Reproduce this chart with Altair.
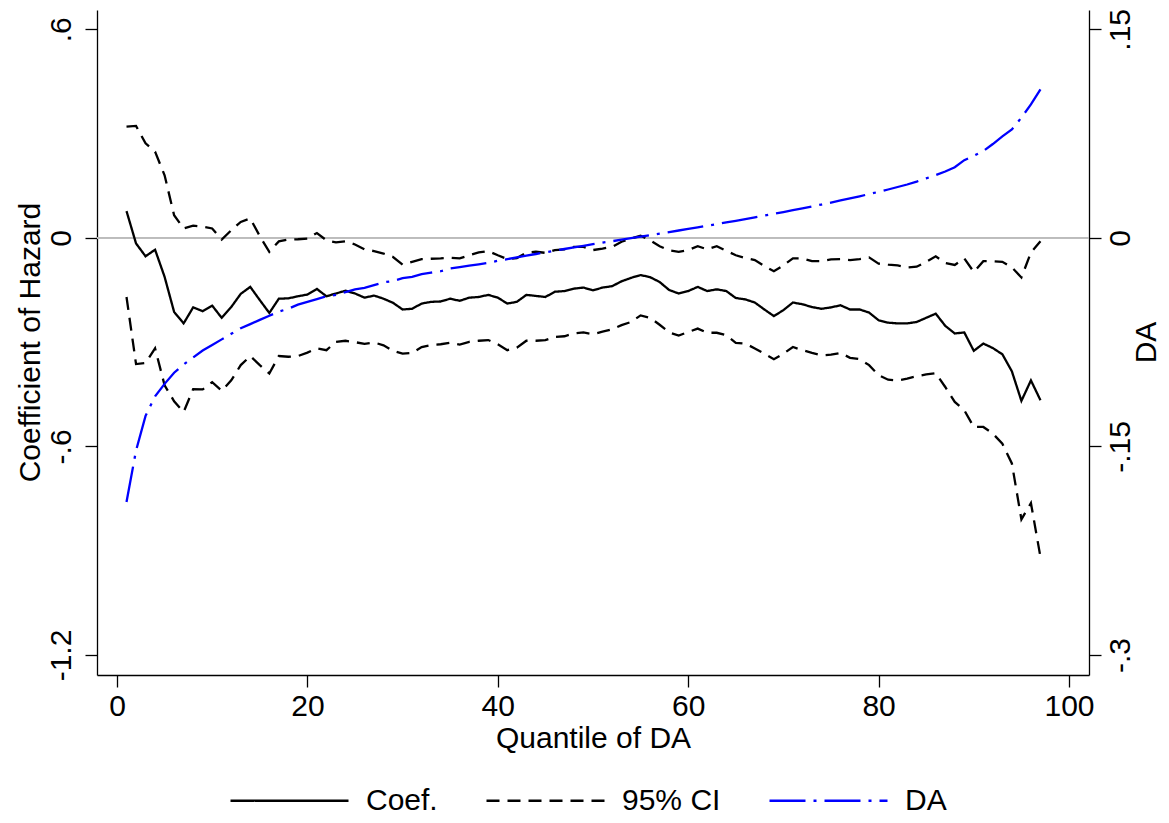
import altair as alt
import pandas as pd

# ---------------- data ----------------
quantile = list(range(1, 98))

coef = [0.077, -0.016, -0.053, -0.034, -0.112, -0.213, -0.246, -0.200, -0.211, -0.195,
        -0.230, -0.199, -0.161, -0.141, -0.179, -0.216, -0.175, -0.174, -0.168, -0.163,
        -0.147, -0.168, -0.160, -0.152, -0.160, -0.172, -0.166, -0.175, -0.187, -0.206,
        -0.204, -0.189, -0.184, -0.183, -0.175, -0.181, -0.172, -0.170, -0.164, -0.172,
        -0.189, -0.184, -0.164, -0.167, -0.170, -0.155, -0.153, -0.146, -0.143, -0.151,
        -0.143, -0.139, -0.125, -0.115, -0.107, -0.113, -0.127, -0.150, -0.160, -0.153,
        -0.141, -0.153, -0.148, -0.153, -0.173, -0.177, -0.186, -0.206, -0.225, -0.208,
        -0.186, -0.191, -0.199, -0.204, -0.200, -0.194, -0.206, -0.206, -0.215, -0.237,
        -0.244, -0.246, -0.246, -0.242, -0.230, -0.218, -0.253, -0.275, -0.272, -0.325,
        -0.304, -0.317, -0.335, -0.384, -0.469, -0.410, -0.467]

ci_upper = [0.320, 0.322, 0.272, 0.248, 0.180, 0.065, 0.027, 0.035, 0.032, 0.027,
            -0.005, 0.022, 0.046, 0.056, 0.005, -0.040, -0.010, -0.005, -0.004, -0.002,
            0.014, -0.007, -0.013, -0.010, -0.019, -0.033, -0.038, -0.045, -0.055, -0.077,
            -0.069, -0.061, -0.060, -0.059, -0.057, -0.059, -0.050, -0.042, -0.038, -0.050,
            -0.061, -0.058, -0.043, -0.040, -0.043, -0.035, -0.033, -0.026, -0.026, -0.035,
            -0.031, -0.026, -0.011, -0.002, 0.006, -0.007, -0.024, -0.036, -0.040, -0.035,
            -0.024, -0.033, -0.024, -0.037, -0.050, -0.058, -0.064, -0.081, -0.096, -0.079,
            -0.059, -0.059, -0.067, -0.067, -0.062, -0.061, -0.064, -0.061, -0.056, -0.074,
            -0.077, -0.079, -0.085, -0.083, -0.069, -0.053, -0.072, -0.078, -0.059, -0.098,
            -0.067, -0.067, -0.069, -0.085, -0.114, -0.042, -0.010]

ci_lower = [-0.170, -0.363, -0.360, -0.318, -0.424, -0.470, -0.501, -0.435, -0.436, -0.415,
            -0.440, -0.410, -0.366, -0.340, -0.366, -0.390, -0.340, -0.342, -0.340, -0.330,
            -0.318, -0.323, -0.299, -0.296, -0.300, -0.305, -0.301, -0.309, -0.325, -0.333,
            -0.331, -0.314, -0.308, -0.306, -0.302, -0.307, -0.299, -0.296, -0.294, -0.306,
            -0.323, -0.316, -0.296, -0.296, -0.294, -0.285, -0.283, -0.275, -0.272, -0.277,
            -0.270, -0.263, -0.251, -0.242, -0.223, -0.230, -0.250, -0.272, -0.281, -0.271,
            -0.261, -0.273, -0.273, -0.280, -0.302, -0.304, -0.318, -0.333, -0.349, -0.333,
            -0.314, -0.323, -0.331, -0.338, -0.336, -0.331, -0.345, -0.349, -0.366, -0.395,
            -0.408, -0.410, -0.405, -0.398, -0.393, -0.389, -0.429, -0.472, -0.496, -0.544,
            -0.544, -0.563, -0.592, -0.649, -0.810, -0.763, -0.918]

da = [-0.190, -0.153, -0.128, -0.114, -0.105, -0.097, -0.091, -0.086, -0.081, -0.077,
      -0.073, -0.069, -0.065, -0.062, -0.059, -0.056, -0.053, -0.051, -0.048, -0.046,
      -0.044, -0.042, -0.041, -0.039, -0.037, -0.036, -0.034, -0.032, -0.031, -0.029,
      -0.028, -0.026, -0.025, -0.024, -0.022, -0.021, -0.020, -0.019, -0.018, -0.0165,
      -0.0153, -0.014, -0.0128, -0.0116, -0.0104, -0.0092, -0.008, -0.0068, -0.0057, -0.0045,
      -0.0034, -0.0024, -0.0013, -0.0002, 0.0009, 0.0020, 0.0031, 0.0042, 0.0053, 0.0064,
      0.0075, 0.0087, 0.0099, 0.0111, 0.0123, 0.0135, 0.0147, 0.0160, 0.0173, 0.0186,
      0.0199, 0.0212, 0.0226, 0.0240, 0.0254, 0.0269, 0.0284, 0.0299, 0.0315, 0.0331,
      0.0348, 0.0366, 0.0384, 0.0405, 0.0428, 0.0452, 0.0477, 0.0508, 0.0559, 0.0590,
      0.0625, 0.0675, 0.0730, 0.0780, 0.0865, 0.0960, 0.1068]

series_names = ["Coef.", "95% CI", "DA"]
series_colors = ["#000000", "#000000", "#0000ff"]
series_dashes = [[1, 0], [13, 8], [36, 8, 3, 8]]

left_ticks = [0.6, 0, -0.6, -1.2]
right_ticks = [0.15, 0, -0.15, -0.3]
x_ticks = [0, 20, 40, 60, 80, 100]

# ---------------- tables ----------------
left_rows = []
for q, c, u, l in zip(quantile, coef, ci_upper, ci_lower):
    left_rows.append({"q": q, "value": c, "series": "Coef.", "line": "coef"})
    left_rows.append({"q": q, "value": u, "series": "95% CI", "line": "upper"})
    left_rows.append({"q": q, "value": l, "series": "95% CI", "line": "lower"})
left_df = pd.DataFrame(left_rows)
right_df = pd.DataFrame({"q": quantile, "da": da, "series": "DA"})

FONT = "Liberation Sans"
FS = 30

color_scale = alt.Scale(domain=series_names, range=series_colors)
dash_scale = alt.Scale(domain=series_names, range=series_dashes)

legend = alt.Legend(
    title=None, orient="none", legendX=132, legendY=730, direction="horizontal",
    symbolType="stroke", symbolSize=118 * 118, symbolStrokeWidth=2.3,
    labelFontSize=FS, labelFont=FONT, labelColor="black", labelOffset=16,
    columnPadding=43, labelLimit=300,
)

x_enc = alt.X("q:Q", scale=alt.Scale(domain=[-2.1, 102.1], nice=False, zero=False),
              axis=alt.Axis(values=x_ticks, title="Quantile of DA", labelAngle=0,
                            labelPadding=4, titleX=496, titleY=63,
                            titleAlign="center", titleBaseline="middle",
                            labelFlush=False, labelOverlap=False))

left_axis = alt.Axis(
    values=left_ticks, title="Coefficient of Hazard",
    labelExpr="abs(datum.value-0.6)<1e-6 ? '.6' : abs(datum.value)<1e-6 ? '0' : abs(datum.value+0.6)<1e-6 ? '-.6' : '-1.2'",
    labelAngle=270, labelAlign="center", labelBaseline="alphabetic", labelPadding=15,
    titleAngle=270, titleX=-67, titleY=332, titleAlign="center", titleBaseline="middle",
    labelFlush=False, labelOverlap=False, orient="left",
)
right_axis = alt.Axis(
    values=right_ticks, title="DA",
    labelExpr="abs(datum.value-0.15)<1e-6 ? '.15' : abs(datum.value)<1e-6 ? '0' : abs(datum.value+0.15)<1e-6 ? '-.15' : '-.3'",
    labelAngle=270, labelAlign="center", labelBaseline="top", labelPadding=4,
    titleAngle=270, titleX=57, titleY=332, titleAlign="center", titleBaseline="middle",
    labelFlush=False, labelOverlap=False, orient="right",
)

left_scale = alt.Scale(domain=[-1.2576, 0.6556], nice=False, zero=False)
right_scale = alt.Scale(domain=[-0.3144, 0.1639], nice=False, zero=False)

zero_line = alt.Chart(left_df).mark_rule(color="#bdbdbd", strokeWidth=1.3).encode(
    y=alt.datum(0, scale=left_scale, axis=left_axis)
)

left_lines = alt.Chart(left_df).mark_line(strokeWidth=2.3).encode(
    x=x_enc,
    y=alt.Y("value:Q", scale=left_scale, axis=left_axis),
    color=alt.Color("series:N", scale=color_scale, legend=legend),
    strokeDash=alt.StrokeDash("series:N", scale=dash_scale, legend=legend),
    detail="line:N",
    order="q:Q",
)

right_line = alt.Chart(right_df).mark_line(strokeWidth=2.3).encode(
    x=x_enc,
    y=alt.Y("da:Q", scale=right_scale, axis=right_axis),
    color=alt.Color("series:N", scale=color_scale, legend=legend),
    strokeDash=alt.StrokeDash("series:N", scale=dash_scale, legend=legend),
    order="q:Q",
)

left_layer = alt.layer(zero_line, left_lines)

chart = alt.layer(left_layer, right_line).resolve_scale(y="independent").properties(
    width=992, height=665,
    autosize=alt.AutoSizeParams(type="none"),
    padding={"left": 89, "top": 2, "right": 72, "bottom": 140},
    background="white",
).configure(font=FONT).configure_view(stroke=None).configure_axis(
    labelFont=FONT, titleFont=FONT, labelFontSize=FS, titleFontSize=FS,
    titleFontWeight="normal", labelColor="black", titleColor="black",
    domainColor="black", tickColor="black", domainWidth=1.3, tickWidth=1.3,
    tickSize=12, grid=False,
)

chart.save("out.html", embed_options={"renderer": "svg", "actions": False})
